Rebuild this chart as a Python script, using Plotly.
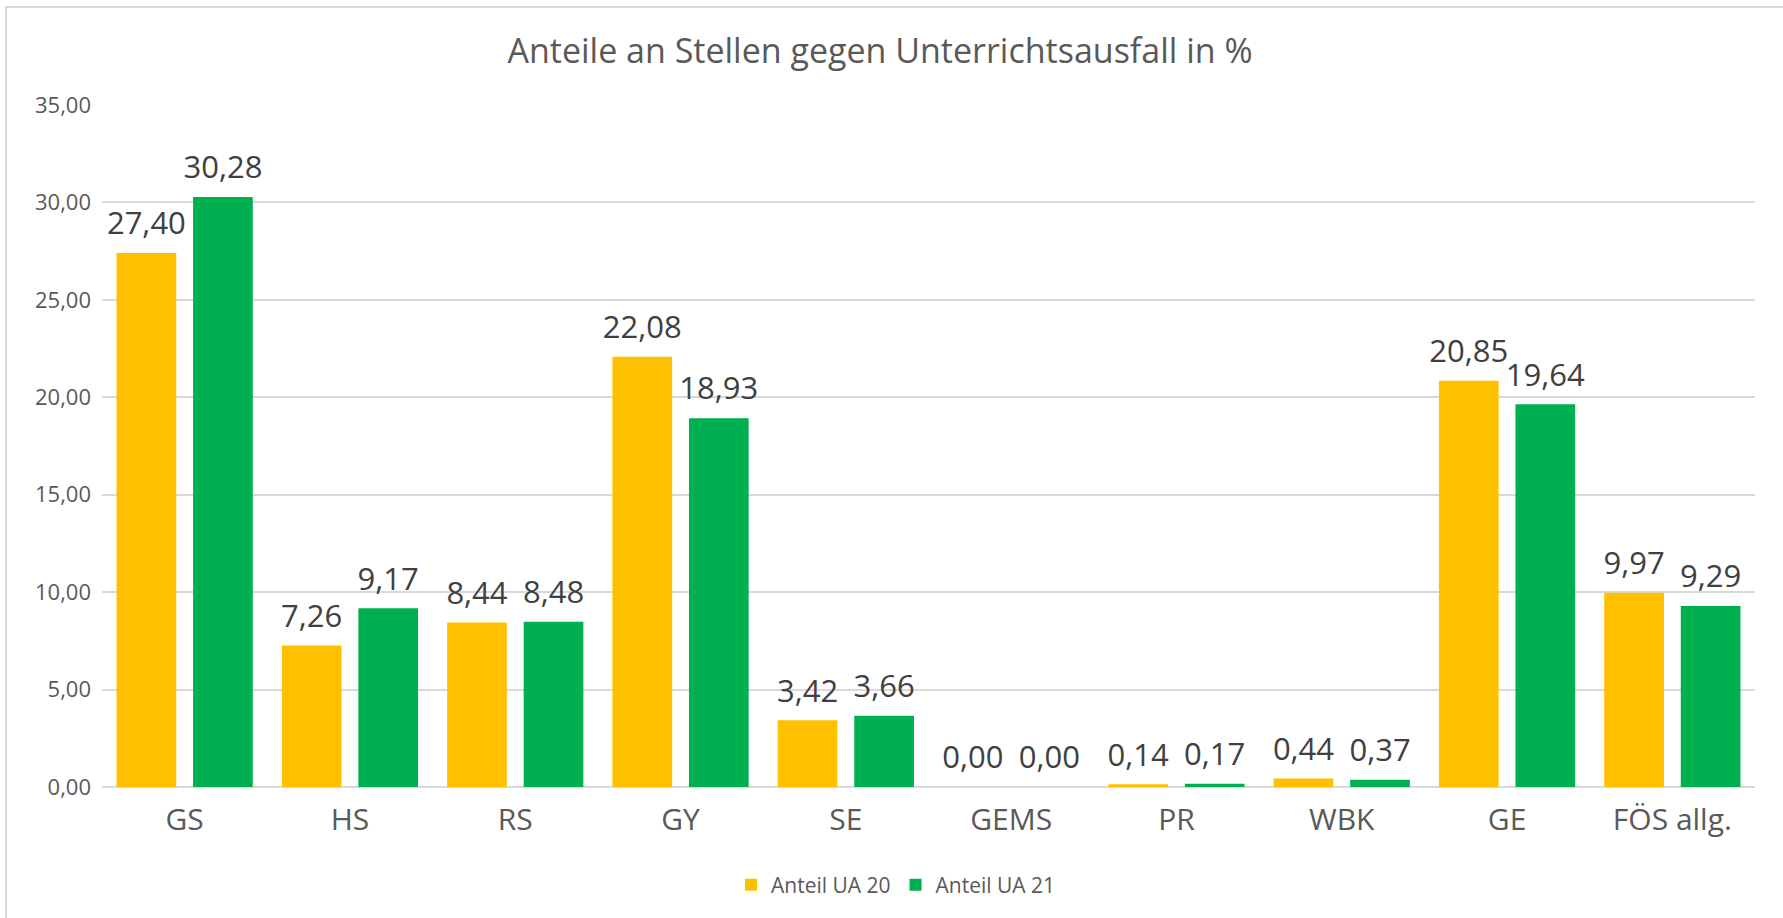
import plotly.graph_objects as go

categories = ["GS", "HS", "RS", "GY", "SE", "GEMS", "PR", "WBK", "GE", "FÖS allg."]
ua20 = [27.40, 7.26, 8.44, 22.08, 3.42, 0.00, 0.14, 0.44, 20.85, 9.97]
ua21 = [30.28, 9.17, 8.48, 18.93, 3.66, 0.00, 0.17, 0.37, 19.64, 9.29]
series_names = ["Anteil UA 20", "Anteil UA 21"]
series_colors = ["#FFC000", "#00B050"]
tick_vals = [0, 5, 10, 15, 20, 25, 30, 35]

W, H = 1783, 918
L, R, T, B = 102, 28, 105, 131
font_family = "'Open Sans', sans-serif"
text_color = "#595959"
label_color = "#404040"
GAP = 0.074
GROUPGAP = 0.22

fig = go.Figure()
for name, vals, col in zip(series_names, [ua20, ua21], series_colors):
    fig.add_trace(go.Bar(x=categories, y=vals, name=name, marker_color=col,
                         marker_line_width=0, hoverinfo="x+y+name"))
# value labels (placed through the same category axis, grouped like the bars)
for name, vals in zip(series_names, [ua20, ua21]):
    fig.add_trace(go.Scatter(
        x=categories, y=vals, mode="markers+text", showlegend=False,
        marker=dict(size=16, opacity=0), hoverinfo="skip",
        texttemplate="%{y:.2f}", textposition="top center", cliponaxis=False,
        textfont=dict(size=31, color=label_color, family=font_family),
    ))

pw = W - L - R
ph = H - T - B

def px_x(p):
    return (p - L) / pw

def px_y(p):
    return (H - B - p) / ph

fig.add_shape(type="rect", xref="paper", yref="paper",
              x0=px_x(6), x1=px_x(1800), y0=px_y(7), y1=px_y(940),
              line=dict(color="#D9D9D9", width=2), fillcolor="rgba(0,0,0,0)", layer="below")

fig.update_layout(
    width=W, height=H,
    margin=dict(l=L, r=R, t=T, b=B, autoexpand=False),
    paper_bgcolor="white", plot_bgcolor="white",
    separators=",.",
    barmode="group", bargap=GAP, bargroupgap=GROUPGAP,
    scattermode="group", scattergap=GAP,
    font=dict(family=font_family, color=text_color),
    title=dict(text="Anteile an Stellen gegen Unterrichtsausfall in %",
               x=880 / W, xanchor="center", y=1 - 51 / H, yanchor="middle",
               font=dict(size=34, color=text_color, family=font_family)),
    legend=dict(orientation="h", x=px_x(896), xanchor="center", y=px_y(885), yanchor="middle",
                font=dict(size=21, color=text_color, family=font_family),
                itemwidth=30, traceorder="normal"),
    yaxis=dict(range=[0, 35], tickvals=tick_vals, tickformat=".2f",
               showgrid=True, gridcolor="#D9D9D9", gridwidth=2,
               zeroline=True, zerolinecolor="#D9D9D9", zerolinewidth=2,
               showline=False, ticks="", ticklabelstandoff=10,
               tickfont=dict(size=22, color=text_color, family=font_family)),
    xaxis=dict(showline=False, ticks="", showgrid=False,
               tickfont=dict(size=30, color=text_color, family=font_family),
               ticklabelstandoff=12),
)

fig.write_html("out.html", config={"displayModeBar": False},
               post_script="document.body.style.margin='0';")
